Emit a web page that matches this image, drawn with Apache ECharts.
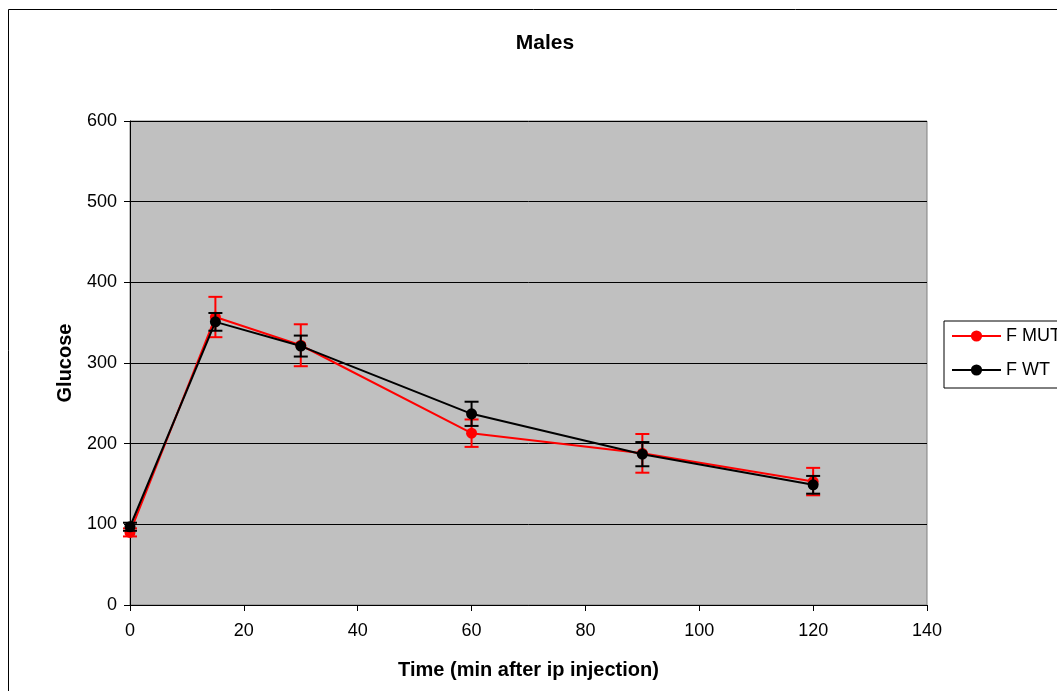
<!DOCTYPE html>
<html>
<head>
<meta charset="utf-8">
<script src="https://cdn.jsdelivr.net/npm/echarts@6/dist/echarts.min.js"></script>
<style>
  html, body { margin: 0; padding: 0; background: #fff; }
  #chart { width: 1057px; height: 691px; }
</style>
</head>
<body>
<div id="chart"></div>
<script>
// data
var times = [0, 15, 30, 60, 90, 120];
var mutMean = [90, 357, 322, 213, 188, 153];
var mutErr = [5, 25, 26, 17, 24, 17];
var wtMean = [97, 351, 321, 237, 187, 149];
var wtErr = [5, 11, 13, 15, 15, 11];

function pairs(xs, ys) {
    return xs.map(function (x, i) { return [x, ys[i]]; });
}
function errData(xs, ys, es) {
    return xs.map(function (x, i) { return [x, ys[i] - es[i], ys[i] + es[i]]; });
}
function errRender(color) {
    return function (params, api) {
        var lo = api.coord([api.value(0), api.value(1)]);
        var hi = api.coord([api.value(0), api.value(2)]);
        var w = 7;
        var st = { stroke: color, lineWidth: 2 };
        return {
            type: 'group',
            children: [
                { type: 'line', shape: { x1: lo[0], y1: lo[1], x2: hi[0], y2: hi[1] }, style: st },
                { type: 'line', shape: { x1: hi[0] - w, y1: hi[1], x2: hi[0] + w, y2: hi[1] }, style: st },
                { type: 'line', shape: { x1: lo[0] - w, y1: lo[1], x2: lo[0] + w, y2: lo[1] }, style: st }
            ]
        };
    };
}

var myChart = echarts.init(document.getElementById('chart'));
var font = 'Liberation Sans, Arial, sans-serif';
var option = {
    animation: false,
    textStyle: { fontFamily: font },
    title: {
        text: 'Males',
        left: 540,
        top: 28,
        textAlign: 'center',
        textStyle: { fontSize: 21, fontWeight: 'bold', color: '#000', fontFamily: font }
    },
    graphic: [{
        type: 'rect',
        shape: { x: 8.5, y: 9.5, width: 1100, height: 700 },
        style: { fill: 'none', stroke: '#000', lineWidth: 1 },
        silent: true
    }],
    legend: {
        data: ['F MUT', 'F WT'],
        orient: 'vertical',
        left: 944,
        top: 321,
        padding: [6, 20, 9, 7],
        itemGap: 16,
        itemWidth: 49,
        itemHeight: 14,
        borderColor: '#000',
        borderWidth: 1,
        backgroundColor: '#fff',
        textStyle: { fontSize: 18, color: '#000', fontFamily: font, padding: [0, 0, 0, 0] }
    },
    grid: {
        left: 130,
        top: 121,
        width: 797,
        height: 484,
        show: true,
        backgroundColor: '#c0c0c0',
        borderColor: '#808080',
        borderWidth: 1
    },
    xAxis: {
        type: 'value',
        min: 0,
        max: 140,
        interval: 20,
        name: 'Time (min after ip injection)',
        nameLocation: 'middle',
        nameGap: 55,
        nameTextStyle: { fontSize: 20, fontWeight: 'bold', color: '#000', fontFamily: font },
        axisLine: { show: true, onZero: false, lineStyle: { color: '#000', width: 1 } },
        axisTick: { show: true, length: 6, lineStyle: { color: '#000' } },
        axisLabel: { fontSize: 18, color: '#000', margin: 17, fontFamily: font },
        splitLine: { show: false }
    },
    yAxis: {
        type: 'value',
        min: 0,
        max: 600,
        interval: 100,
        name: 'Glucose',
        nameLocation: 'middle',
        nameGap: 55,
        nameTextStyle: { fontSize: 20, fontWeight: 'bold', color: '#000', fontFamily: font },
        axisLine: { show: true, lineStyle: { color: '#000', width: 1 } },
        axisTick: { show: true, length: 6, lineStyle: { color: '#000' } },
        axisLabel: { fontSize: 18, color: '#000', margin: 13, fontFamily: font },
        splitLine: { show: true, lineStyle: { color: '#000', width: 1 } }
    },
    series: [
        {
            name: 'F MUT',
            type: 'line',
            data: pairs(times, mutMean),
            symbol: 'circle',
            symbolSize: 11,
            itemStyle: { color: '#ff0000' },
            lineStyle: { color: '#ff0000', width: 2 },
            z: 3
        },
        {
            name: 'F MUT err',
            type: 'custom',
            data: errData(times, mutMean, mutErr),
            renderItem: errRender('#ff0000'),
            encode: { x: 0, y: [1, 2] },
            z: 3
        },
        {
            name: 'F WT',
            type: 'line',
            data: pairs(times, wtMean),
            symbol: 'circle',
            symbolSize: 11,
            itemStyle: { color: '#000' },
            lineStyle: { color: '#000', width: 2 },
            z: 4
        },
        {
            name: 'F WT err',
            type: 'custom',
            data: errData(times, wtMean, wtErr),
            renderItem: errRender('#000'),
            encode: { x: 0, y: [1, 2] },
            z: 4
        }
    ]
};
myChart.setOption(option);
</script>
</body>
</html>
